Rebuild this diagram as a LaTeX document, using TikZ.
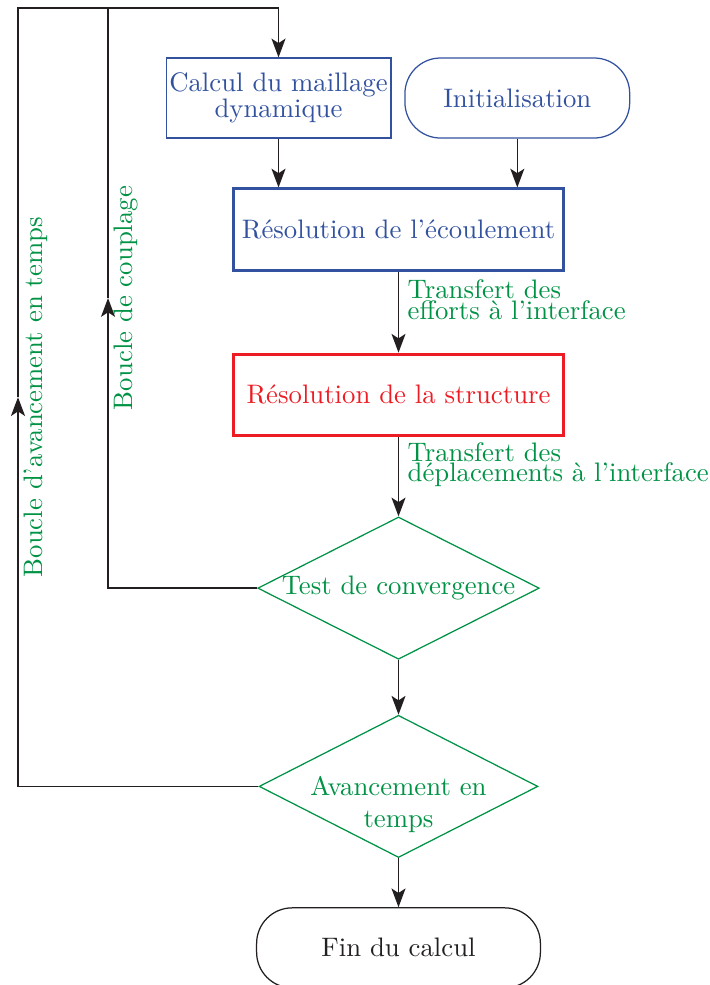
\documentclass[tikz,border=0pt]{standalone}
\usepackage{fontspec}
\usepackage{tikz}
\usetikzlibrary{positioning,arrows.meta,shapes.geometric,calc}

\definecolor{fluidblue}{RGB}{50,82,160}
\definecolor{solidred}{RGB}{237,28,36}
\definecolor{loopgreen}{RGB}{0,146,69}
\definecolor{linegray}{RGB}{35,31,32}

\begin{document}
\begin{tikzpicture}[
  font=\fontsize{10.7}{12.8}\selectfont,
  node distance=1.14cm,
  tight/.style={font=\fontsize{10.7}{8.3}\selectfont},
  box/.style={draw,tight,align=center,line width=0.5pt,minimum width=3.16cm,minimum height=1.125cm,inner sep=1pt},
  mainbox/.style={draw,align=center,line width=1.2pt,minimum width=4.65cm,minimum height=1.14cm},
  term/.style={draw,rounded corners=0.5cm,align=center,line width=0.5pt,minimum width=3.16cm,minimum height=1.125cm},
  test/.style={diamond,aspect=2,draw=loopgreen,text=loopgreen,align=center,line width=0.5pt,minimum width=3.92cm,minimum height=2cm,inner sep=0pt},
  diamtxt/.style={text=loopgreen,align=center,yshift=-7.2pt},
  lbl/.style={tight,text=loopgreen,align=left},
  looplbl/.style={text=loopgreen,rotate=90,anchor=north,inner sep=2pt},
  link/.style={draw=linegray,line width=0.65pt},
  >={Stealth[length=7.5pt,width=5.6pt,inset=1.8pt]}]
\useasboundingbox (0,0) rectangle (9.969,-13.849);
\node[box,draw=fluidblue,text=fluidblue] (maillage) at (3.916,-1.378) {Calcul du maillage\\dynamique};
\node[term,draw=fluidblue,text=fluidblue,right=0.18cm of maillage] (init) {Initialisation};
\node[mainbox,draw=fluidblue,text=fluidblue] (fluide) at (5.603,-3.227) {Résolution de l'écoulement};
\node[mainbox,draw=solidred,text=solidred,below=of fluide] (solide) {Résolution de la structure};
\node[test,below=1.12cm of solide] (conv) {Test de convergence};
\node[test,below=0.77cm of conv,label={[diamtxt]center:Avancement en\\temps}] (avance) {};
\node[term,draw=linegray,text=linegray,minimum width=3.99cm,below=0.69cm of avance] (fin) {Fin du calcul};
% loop corners
\coordinate (atop) at (0.253,-0.112);
\coordinate (ctop) at (1.519,-0.112);
\coordinate (cmid) at ($(conv.west -| ctop)!.5!(ctop)$);
\coordinate (amid) at ($(avance.west -| atop)!.5!(atop)$);
\draw[link,->] (maillage) -- (maillage |- fluide.north);
\draw[link,->] (init) -- (init |- fluide.north);
\draw[link,->] (fluide) -- node[lbl,pos=0.35,right]{Transfert des\\efforts à l'interface} (solide);
\draw[link,->] (solide) -- node[lbl,pos=0.35,right]{Transfert des\\déplacements à l'interface} (conv);
\draw[link,->] (conv) -- (avance);
\draw[link,->] (avance) -- (fin);
% boucle de couplage
\draw[link,->] (conv.west) -| (cmid);
\node[looplbl] at (cmid) {Boucle de couplage};
\draw[link,->] (cmid) -- (ctop) -| (maillage.north);
% boucle en temps
\draw[link,->] (avance.west) -| (amid);
\node[looplbl] at (amid) {Boucle d'avancement en temps};
\draw[link] (amid) -- (atop) -- (ctop);
\end{tikzpicture}
\end{document}
